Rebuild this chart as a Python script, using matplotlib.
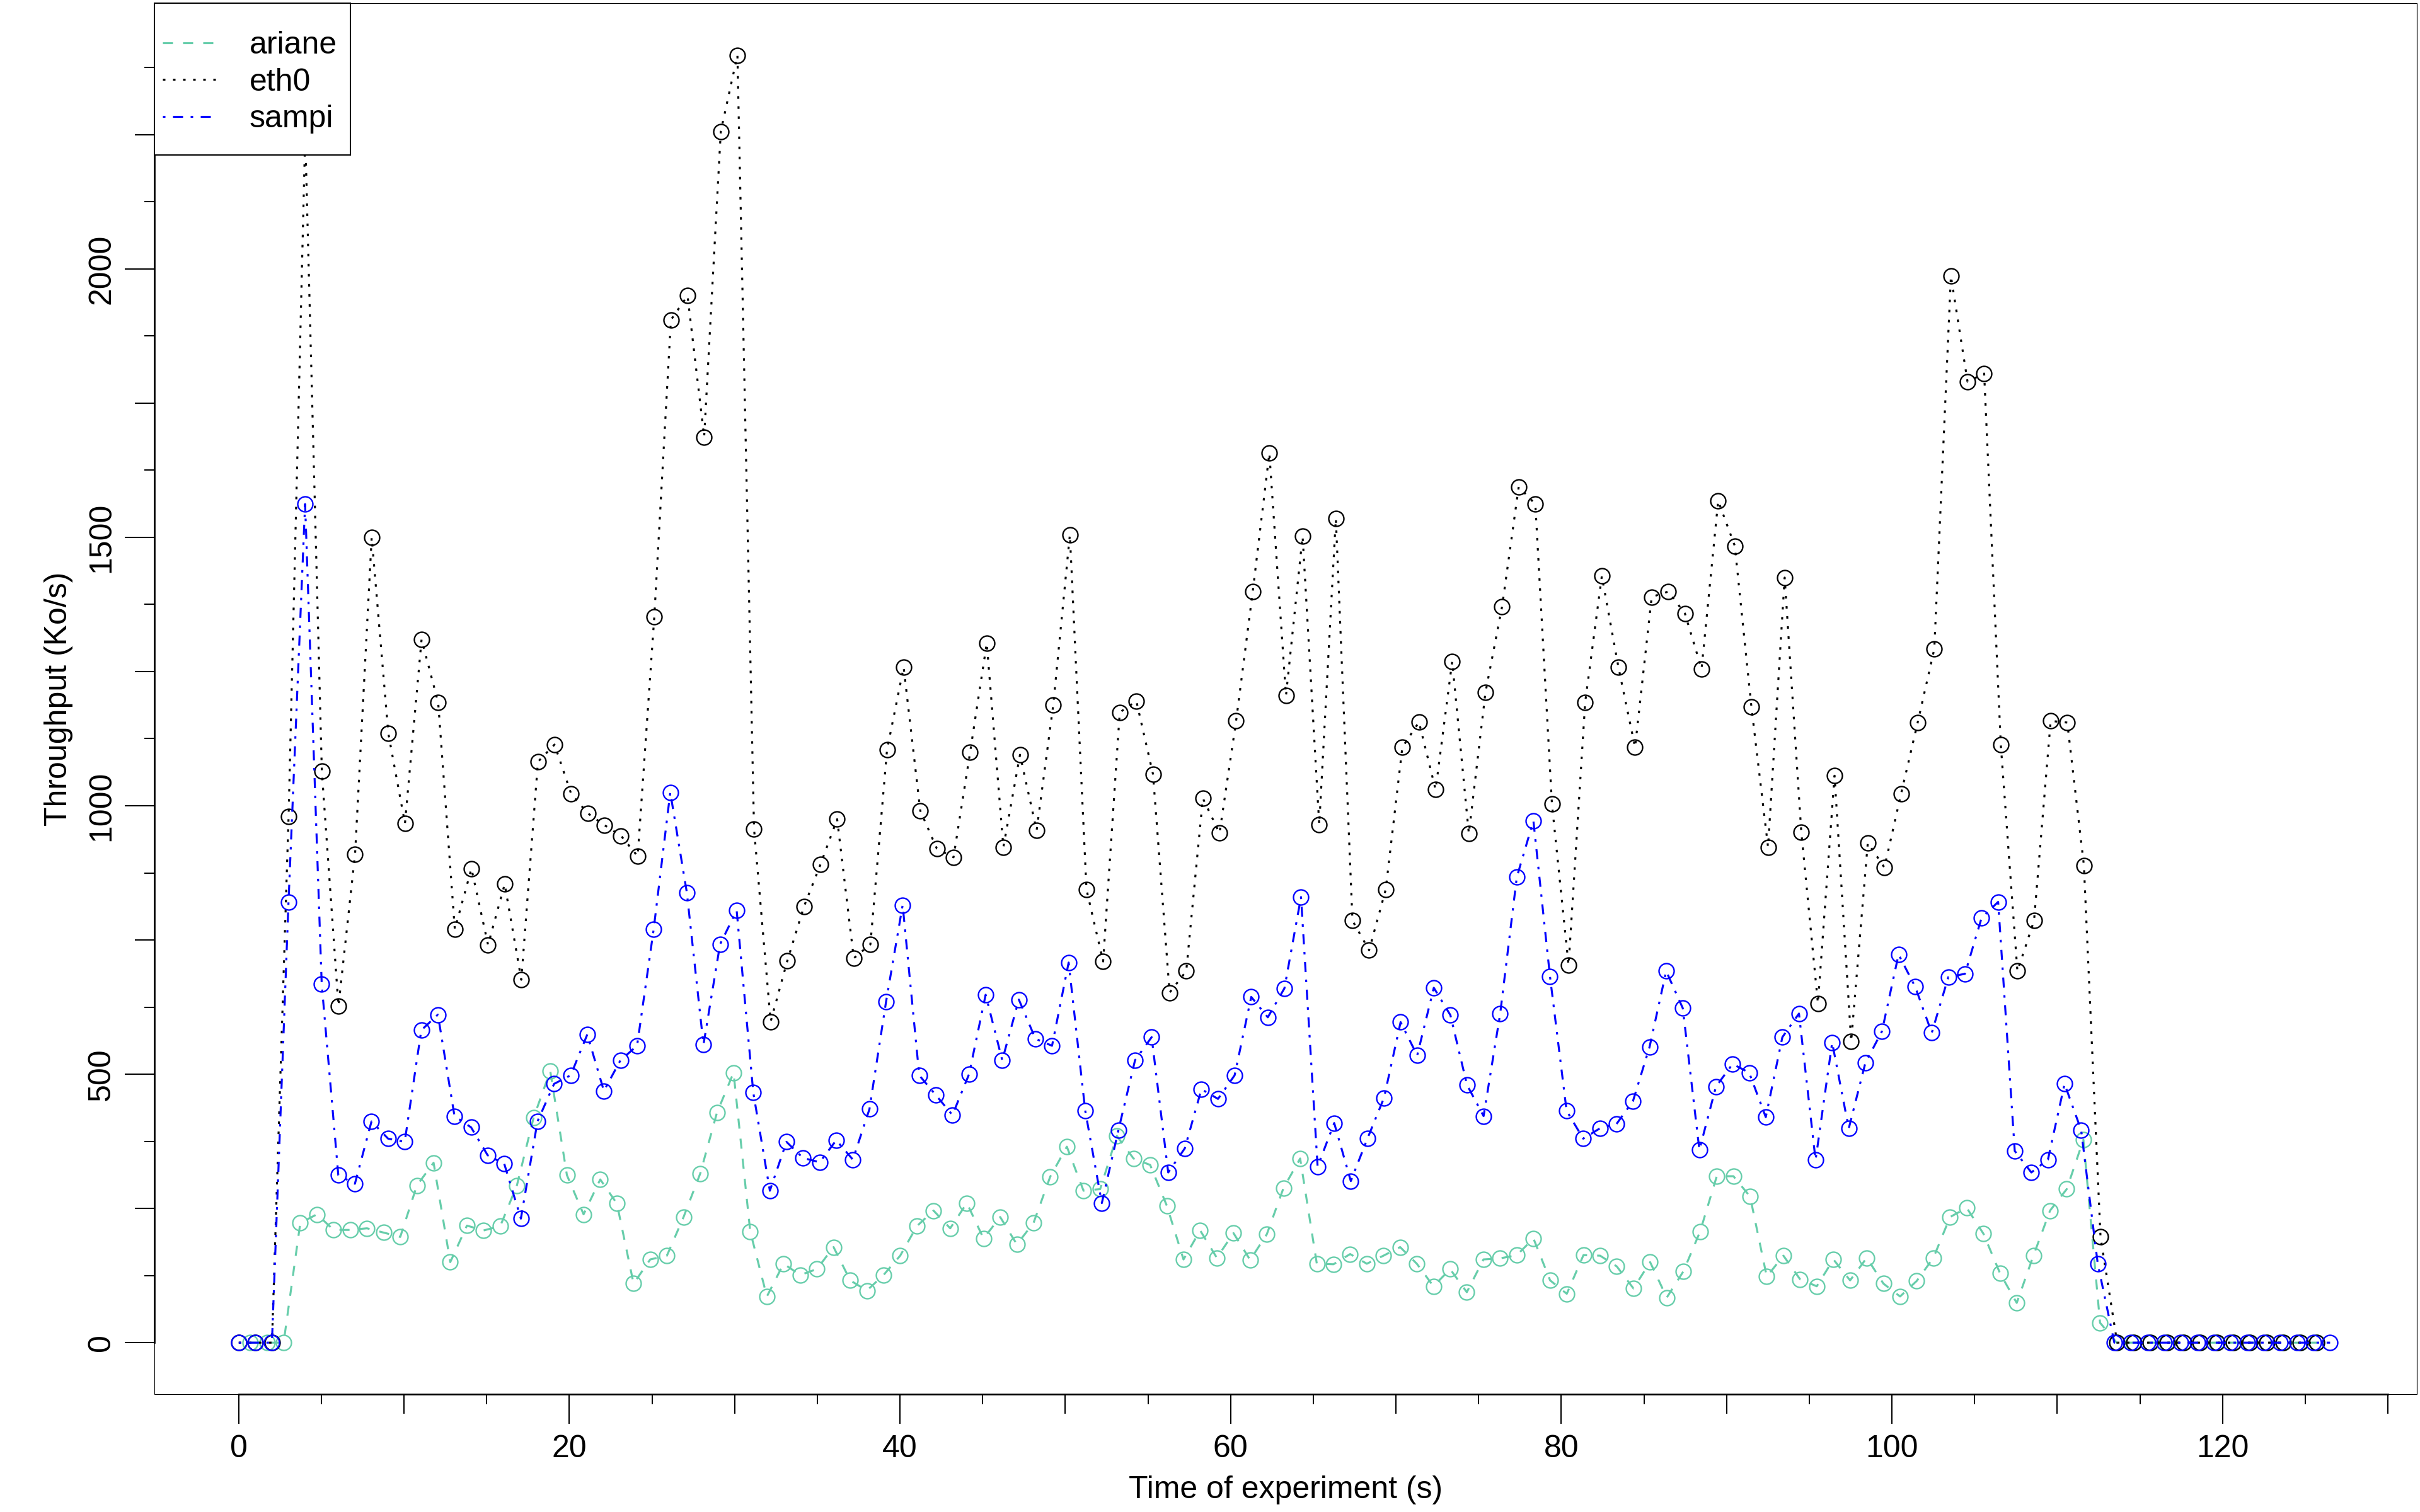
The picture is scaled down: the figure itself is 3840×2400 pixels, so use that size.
import numpy as np
import matplotlib
matplotlib.use("Agg")
from matplotlib import pyplot as plt
from matplotlib.lines import Line2D
from matplotlib.patches import Rectangle

plt.rcParams["font.family"] = ["Liberation Sans", "DejaVu Sans"]
plt.rcParams["lines.scale_dashes"] = False

# throughput samples (Ko/s), one per second
ariane = [
    0, 0, 0, 223, 239, 210, 210, 213, 205, 197, 293, 335, 150, 218, 209, 217, 293, 419, 506, 312,
    239, 304, 259, 110, 155, 162, 234, 315, 428, 503, 207, 86, 147, 126, 137, 178, 116, 97, 126, 162,
    217, 246, 213, 260, 194, 234, 183, 223, 309, 365, 283, 286, 385, 343, 331, 255, 155, 209, 158, 204,
    154, 202, 288, 343, 147, 146, 165, 147, 162, 178, 147, 105, 137, 94, 155, 157, 163, 194, 116, 91,
    163, 162, 142, 101, 150, 84, 133, 207, 310, 310, 272, 123, 162, 118, 105, 155, 116, 158, 110, 86,
    115, 158, 234, 251, 203, 129, 74, 162, 246, 286, 378, 37,
    0, 0, 0, 0, 0, 0, 0, 0, 0, 0, 0, 0, 0,
]
eth0 = [
    0, 0, 0, 980, 2250, 1064, 627, 910, 1500, 1135, 967, 1310, 1192, 770, 883, 741, 854, 676, 1082, 1114,
    1022, 986, 964, 944, 906, 1352, 1905, 1950, 1687, 2256, 2398, 957, 598, 711, 812, 891, 975, 716, 742, 1104,
    1258, 991, 920, 904, 1100, 1303, 923, 1095, 954, 1188, 1505, 844, 710, 1174, 1195, 1059, 652, 692, 1014, 949,
    1158, 1399, 1657, 1205, 1502, 965, 1535, 786, 731, 844, 1109, 1156, 1030, 1269, 948, 1211, 1371, 1594, 1562, 1003,
    703, 1193, 1428, 1258, 1109, 1389, 1399, 1358, 1255, 1568, 1484, 1184, 923, 1425, 951, 632, 1056, 561, 931, 885,
    1022, 1155, 1292, 1987, 1790, 1805, 1114, 692, 786, 1158, 1155, 889, 197,
    0, 0, 0, 0, 0, 0, 0, 0, 0, 0, 0, 0, 0,
]
sampi = [
    0, 0, 0, 821, 1562, 668, 312, 296, 412, 380, 374, 582, 611, 422, 401, 349, 333, 231, 412, 482,
    498, 574, 469, 526, 553, 770, 1025, 838, 555, 742, 805, 466, 283, 374, 344, 336, 377, 341, 435, 635,
    815, 498, 461, 424, 500, 648, 526, 639, 566, 553, 708, 432, 260, 396, 526, 569, 317, 362, 472, 454,
    498, 644, 606, 660, 830, 328, 409, 301, 380, 456, 597, 535, 661, 610, 480, 422, 613, 867, 972, 682,
    432, 380, 399, 407, 450, 551, 692, 623, 359, 477, 519, 503, 420, 569, 613, 340, 559, 399, 521, 580,
    723, 663, 577, 681, 687, 791, 821, 357, 317, 341, 482, 396, 147,
    0, 0, 0, 0, 0, 0, 0, 0, 0, 0, 0, 0, 0, 0,
]

# sample times (s): each capture has its own start and clock rate
t_ariane = 0.7 + 1.008 * np.arange(len(ariane))
t_eth0 = 1.0055 * np.arange(len(eth0))
t_sampi = 1.004 * np.arange(len(sampi))

series = [
    ("ariane", t_ariane, ariane, "#66CDAA", (0, (4.8, 4.8))),
    ("eth0", t_eth0, eth0, "black", (0, (1.2, 3.6))),
    ("sampi", t_sampi, sampi, "blue", (0, (1.2, 3.6, 4.8, 3.6))),
]

W, H = 3840, 2400
L, R, T, B = 245, 3835, 5, 2213  # plot frame in pixels

fig = plt.figure(figsize=(16, 10), dpi=240)
ax = fig.add_axes([L / W, 1 - B / H, (R - L) / W, (B - T) / H])

for name, t, v, col, ls in series:
    ax.plot(t, v, color=col, lw=0.95, linestyle=ls, marker="o", ms=7.2,
            mfc="none", mec=col, mew=0.7, zorder=3)

ax.set_xlim(-5.1, 131.75)
ax.set_ylim(-96, 2495)

# frame + R style axes
for s in ax.spines.values():
    s.set_visible(False)
ax.add_patch(Rectangle((0, 0), 1, 1, transform=ax.transAxes, fill=False,
                       lw=0.35, ec="black", clip_on=False, zorder=5))
ax.spines["bottom"].set_visible(True)
ax.spines["left"].set_visible(True)
ax.spines["bottom"].set_bounds(0, 130)
ax.spines["left"].set_bounds(0, 2375)
ax.spines["bottom"].set_linewidth(0.8)
ax.spines["left"].set_linewidth(0.8)

fs = 15
ax.set_xticks(np.arange(0, 121, 20))
ax.set_xticks([x for x in range(5, 131, 10)], minor=True)
ax.set_yticks(np.arange(0, 2001, 500))
ax.set_yticks([y for y in range(125, 2400, 250)], minor=True)
ax.tick_params(which="major", length=14, width=0.6, labelsize=fs)
ax.tick_params(which="minor", length=4.8, width=0.6)
ax.tick_params(axis="x", which="major", pad=5.2)
ax.tick_params(axis="y", which="major", pad=4.2, labelrotation=90)
for lab in ax.get_yticklabels():
    lab.set_verticalalignment("center")

secx = ax.secondary_xaxis("bottom")
secx.set_xticks(list(range(10, 131, 20)))
secx.tick_params(length=9.4, width=0.6, labelbottom=False)
secy = ax.secondary_yaxis("left")
secy.set_yticks(list(range(250, 2400, 500)))
secy.tick_params(length=9.2, width=0.6, labelleft=False)
for sec in (secx, secy):
    for s in sec.spines.values():
        s.set_visible(False)

ax.set_xlabel("Time of experiment (s)", fontsize=fs, va="center")
ax.xaxis.set_label_coords(0.5, (B - 2365) / (B - T))
ax.set_ylabel("Throughput (Ko/s)", fontsize=fs, va="center")
ax.yaxis.set_label_coords((93 - L) / (R - L), 0.5)

# legend box (opaque, hides lines behind it)
box_w, box_h = 556 - L, 246 - T
ax.add_patch(Rectangle((0, 1 - box_h / (B - T)), box_w / (R - L), box_h / (B - T),
                       transform=ax.transAxes, fc="white", ec="black", lw=0.6,
                       clip_on=False, zorder=9))
handles = [Line2D([], [], color=col, lw=0.95, linestyle=ls) for _, _, _, col, ls in series]
leg = ax.legend(handles, [s[0] for s in series], loc="upper left",
                bbox_to_anchor=((258 - L) / (R - L), 1 - (49 - T) / (B - T)),
                borderaxespad=0, borderpad=0, fontsize=fs, frameon=False,
                handlelength=1.72, handletextpad=1.04, labelspacing=0.25)
leg.set_zorder(10)

fig.savefig("out.png", dpi=240)
